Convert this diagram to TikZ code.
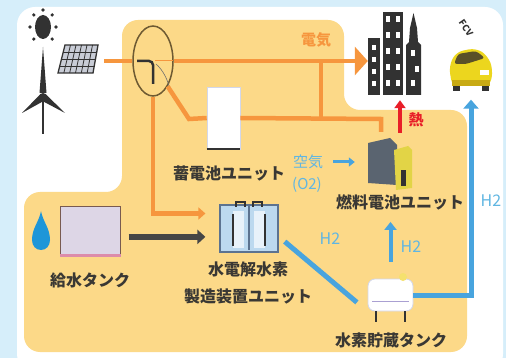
\documentclass[tikz,border=0pt]{standalone}
\usepackage{fontspec}
\setmainfont{Noto Sans CJK JP}
\usetikzlibrary{arrows.meta,shapes.geometric}

\definecolor{skyback}{RGB}{214,238,250}
\definecolor{zone}{RGB}{252,217,136}
\definecolor{power}{RGB}{246,150,62}
\definecolor{hydro}{RGB}{72,164,222}
\definecolor{hydrotext}{RGB}{96,182,226}
\definecolor{heatred}{RGB}{232,30,40}
\definecolor{ink}{RGB}{58,56,52}
\definecolor{iconink}{RGB}{50,50,50}
\definecolor{panelcell}{RGB}{200,204,214}
\definecolor{meterline}{RGB}{110,90,50}
\definecolor{lavender}{RGB}{221,214,230}
\definecolor{tankedge}{RGB}{120,90,80}
\definecolor{pinkband}{RGB}{220,140,170}
\definecolor{cellblue}{RGB}{188,217,239}
\definecolor{celledge}{RGB}{92,115,144}
\definecolor{cellpale}{RGB}{232,242,250}
\definecolor{slate}{RGB}{90,100,112}
\definecolor{fcyellow}{RGB}{226,212,70}
\definecolor{carbody}{RGB}{236,214,30}
\definecolor{carshade}{RGB}{200,170,20}
\definecolor{carglass}{RGB}{90,80,40}
\definecolor{valve}{RGB}{245,225,110}
\definecolor{tankline}{RGB}{170,160,210}
\definecolor{tankrim}{RGB}{210,215,235}
\definecolor{watergray}{RGB}{70,70,70}
\definecolor{drop}{RGB}{30,150,216}

\tikzset{
  unitlabel/.style={font=\bfseries\fontsize{16}{18}\selectfont, text=ink, inner sep=0pt},
  gaslabel/.style={font=\fontsize{16}{18}\selectfont, text=hydrotext, inner sep=0pt},
  elecline/.style={draw=power, line width=4.5pt},
  gasline/.style={draw=hydro, line width=5pt},
  blank/.style={inner sep=0pt, draw=none},
}

\begin{document}
\begin{tikzpicture}[x=1pt,y=-1pt]
\useasboundingbox (0,0) rectangle (506,358);
\fill[skyback] (0,0) rectangle (506,358);
\fill[white, rounded corners=18pt] (17,7) rectangle (503,372);

% yellow zone of the site
\fill[zone, rounded corners=16pt] (122,20) -- (344,20) -- (344,110) -- (467,110)
  -- (467,352) -- (24,352) -- (24,192) -- (122,192) -- cycle;

% sun
\fill[iconink] (43,27) ellipse (8 and 12);
\foreach \a in {0,45,135,180,225,270,315}
  \fill[iconink] ({43+13*cos(\a)},{27+17*sin(\a)}) circle (1.8);

% wind turbine
\fill[iconink] (43,47) -- (46.5,93) -- (39.5,93) -- cycle;
\fill[iconink] (40.5,94) -- (45.5,100) -- (22,113) -- cycle;
\fill[iconink] (45.5,94) -- (40.5,100) -- (65,113) -- cycle;
\fill[iconink] (43,97) circle (4);
\fill[iconink] (41.8,100) rectangle (44.2,134);

% solar panel
\filldraw[fill=panelcell, draw=iconink, line width=1.3pt] (65,45) -- (98,45) -- (93,73) -- (58,73) -- cycle;
\foreach \i in {1,...,5}
  \draw[iconink, line width=0.8pt] ({65+5.5*\i},45) -- ({58+5.83*\i},73);
\foreach \j in {1,2,3}
  \draw[iconink, line width=0.8pt] ({65-1.75*\j},{45+7*\j}) -- ({98-1.25*\j},{45+7*\j});
\coordinate (pv) at (104,61);

% distribution board
\node[ellipse, draw=meterline, line width=1.5pt, minimum width=40pt, minimum height=70pt, inner sep=0pt] (meter) at (153,61) {};
\draw[iconink, line width=2.5pt, rounded corners=4pt] (137,61) -- (153,61) -- (153,84);
\draw[power, line width=1pt] (155,61) -- (173,61);
\draw[iconink!70, line width=0.6pt] (156,64) .. controls (163,70) and (168,80) .. (170,90);

% buildings
\node[blank, minimum width=53pt, minimum height=83pt] (bldg) at (394.5,53.5) {};
\fill[iconink] (368,38) rectangle (380,95);
\fill[iconink] (383,12) rectangle (403,95);
\fill[iconink] (406,95) -- (406,45) -- (409,42) -- (410,28) -- (413.5,13) -- (417,28)
  -- (418,42) -- (421,45) -- (421,95) -- cycle;
\foreach \y in {45,57,69,81}
  \fill[white] (372,\y) rectangle (376,{\y+5});
\foreach \y in {16,32,48,64,80}
  \foreach \x in {386,396}
    \fill[white] (\x,\y) rectangle ({\x+4},{\y+6});
\fill[white] (411,50) rectangle (415,56);
\fill[white] (415,66) rectangle (419,72);
\fill[white] (411,80) rectangle (415,86);

% fuel cell vehicle
\node[blank, minimum width=42pt, minimum height=43pt] (fcv) at (471,68) {};
\fill[iconink] (453,80) rectangle (460,91);
\fill[iconink] (482,80) rectangle (489,91);
\fill[carbody, rounded corners=7pt] (449,66) -- (456,52) -- (476,48) -- (488,56) -- (493,70) -- (490,86) -- (452,86) -- cycle;
\fill[carglass, rounded corners=3pt] (458,54) -- (476,51) -- (485,58) -- (466,64) -- (454,64) -- cycle;
\fill[carshade] (452,80) -- (490,80) -- (490,86) -- (452,86) -- cycle;
\fill[white] (480,70) rectangle (489,75);
\node[font=\bfseries\fontsize{9}{10}\selectfont, text=iconink, rotate=-55, inner sep=0pt] (fcvlbl) at (466,28) {FCV};

% battery unit
\node[blank, fill=white, draw=tankrim, line width=0.6pt, minimum width=33pt, minimum height=62pt] (batt) at (223.5,118) {};
\draw[iconink, line width=2pt] (batt.south west) -- (batt.south east);
\node[unitlabel] (battlbl) at (229,173) {蓄電池ユニット};

% fuel cell unit
\node[blank, minimum width=44pt, minimum height=48pt] (fc) at (390,164) {};
\fill[slate] (368,143) -- (390,138) -- (397,145) -- (397,185) -- (368,183) -- cycle;
\fill[fcyellow] (394,150) -- (408,146) -- (412,150) -- (412,188) -- (396,190) -- cycle;
\fill[iconink] (401,170) rectangle (406,186);
\node[unitlabel] (fclbl) at (400,202) {燃料電池ユニット};

% feed water tank
\node[blank, fill=lavender, draw=tankedge, line width=1pt, minimum width=60pt, minimum height=49pt] (fwtank) at (90,231.5) {};
\fill[pinkband] ([yshift=3pt]fwtank.south west) rectangle (fwtank.south east);
\fill[drop] (41,211) .. controls (43,222) and (50,228) .. (50,240)
  .. controls (50,246) and (46,250) .. (41,250)
  .. controls (36,250) and (32,246) .. (32,240)
  .. controls (32,228) and (39,222) .. cycle;
\node[unitlabel] (fwlbl) at (90,280) {給水タンク};

% electrolyser
\node[blank, fill=cellblue, draw=celledge, line width=1.2pt, minimum width=58pt, minimum height=47pt] (elyz) at (249,228.5) {};
\fill[cellpale] (233,211) rectangle (244,248);
\fill[cellpale] (254,211) rectangle (265,248);
\draw[iconink, line width=1.6pt] (233,214) -- (233,246);
\draw[iconink, line width=1.6pt] (265,214) -- (265,246);
\draw[celledge, line width=1.2pt] (249,206) -- (249,250);
\draw[iconink, line width=1.5pt] (236,207) -- (236,202) -- (245,202) -- (245,207);
\draw[iconink, line width=1.5pt] (253,207) -- (253,202) -- (262,202) -- (262,207);
\node[unitlabel, align=center] (elyzlbl) at (248,282.5) {水電解水素\\[9pt]製造装置ユニット};

% hydrogen storage tank
\node[blank, fill=white, draw=tankrim, line width=0.8pt, rounded corners=7pt, minimum width=45pt, minimum height=32pt] (h2tank) at (390.5,295) {};
\draw[tankline, line width=1pt] (372,301) -- (409,301);
\draw[iconink, line width=2pt] (376,311) -- (376,322);
\draw[iconink, line width=2pt] (405,311) -- (405,322);
\fill[valve] (403,277) circle (4);
\node[unitlabel] (h2lbl) at (391,340) {水素貯蔵タンク};

% electricity
\draw[elecline] (pv) -- (meter.west);
\draw[elecline, -{Triangle[width=28pt,length=13pt]}] (meter.east) -- (bldg.west |- meter.east);
\node[font=\bfseries\fontsize{15}{17}\selectfont, text=power, inner sep=0pt] (eleclbl) at (316,40) {電気};
\coordinate (tap) at (321,61);
\coordinate (bus) at (321,119);
\coordinate (fctap) at (381,119);
\coordinate (bend) at (189,119);
\draw[elecline] (tap) -- (bus);
\draw[elecline] (meter.-60) -- (bend) -- (batt.west);
\draw[elecline, shorten >=8pt] (batt.east) -- (fctap) -- (fctap |- fc.north);
\draw[elecline, shorten >=14pt, -{Triangle[width=12pt,length=7pt]}] (meter.south) |- ([yshift=15pt]elyz.west);

% water
\draw[draw=watergray, line width=6pt, shorten <=8pt, shorten >=14pt, -{Triangle[width=14pt,length=8pt]}]
  (fwtank.-10) -- (fwtank.-10 -| elyz.west);

% heat
\coordinate (heatsrc) at (400,140);
\draw[heatred, line width=4.5pt, shorten <=7pt, shorten >=5pt, -{Triangle[width=11pt,length=8pt]}]
  (heatsrc) -- (heatsrc |- bldg.south);
\node[font=\bfseries\fontsize{15}{17}\selectfont, text=heatred, inner sep=0pt] (heatlbl) at (416,120) {熱};

% air
\node[gaslabel, font=\fontsize{15}{17}\selectfont] (air) at (308,162) {空気};
\node[gaslabel, font=\fontsize{15}{17}\selectfont] (o2) at (307,185) {(O2)};
\draw[hydro, line width=3pt, shorten <=10pt, shorten >=13pt, -{Triangle[width=9pt,length=6pt]}] (air.east) -- (air.east -| fc.west);

% hydrogen
\draw[gasline, shorten <=8pt, shorten >=14pt] (elyz.-15) -- (h2tank.south west);
\node[gaslabel] (h2a) at (330,239) {H2};
\draw[gasline, line width=4pt, shorten <=17pt, shorten >=12pt, -{Triangle[width=12pt,length=8pt]}]
  (h2tank.north) -- (h2tank.north |- fclbl.south);
\node[gaslabel] (h2b) at (411,247) {H2};
\draw[gasline, shorten >=10pt, -{Triangle[width=15pt,length=9pt]}] (h2tank.east) -| (fcv.south);
\node[gaslabel] (h2c) at (491,201) {H2};
\end{tikzpicture}
\end{document}
